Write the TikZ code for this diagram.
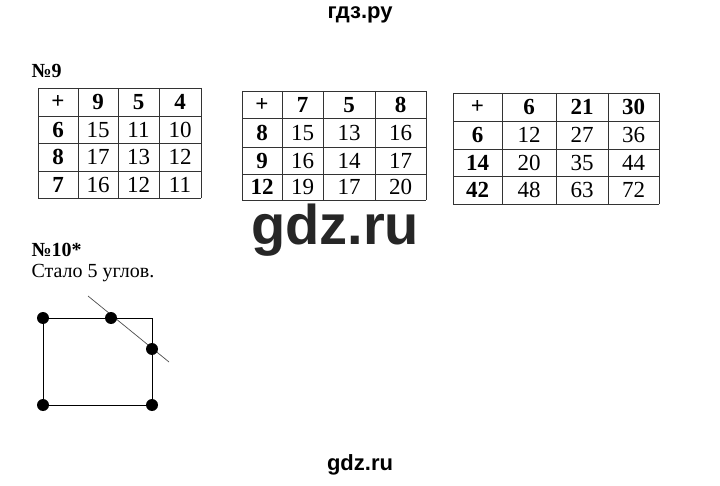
\documentclass[tikz,border=0pt]{standalone}
\usepackage{fontspec}
\setmainfont{Liberation Serif}
\newfontfamily\sans{Liberation Sans}
\begin{document}
\begin{tikzpicture}[x=1pt,y=-1pt,
  cell/.style={font=\fontsize{23}{23}\selectfont},
  hd/.style={font=\bfseries\fontsize{23}{23}\selectfont},
  dot/.style={circle,fill=black,inner sep=0pt,minimum size=12pt},
  grid/.style={line width=0.9pt,draw=black!80}]
\useasboundingbox (0,0) rectangle (720,486);
\node[font=\sans\bfseries\fontsize{22}{22}\selectfont] (t) at (360,15) {гдз.ру};
\node[font=\sans\bfseries\fontsize{22}{22}\selectfont] (b) at (360,465) {gdz.ru};
\node[font=\sans\bfseries\fontsize{56}{56}\selectfont,text=black!85] (w) at (335,230) {gdz.ru};
\node[anchor=west,font=\bfseries\fontsize{20}{20}\selectfont] (n9) at (28,71) {№9};
\node[anchor=west,font=\bfseries\fontsize{20}{20}\selectfont] (n10) at (28,250) {№10*};
\node[anchor=west,font=\fontsize{20}{20}\selectfont] (s) at (28,273) {Стало 5 углов.};
% Table 1
\foreach \x in {38,78,118,159,201} \draw[grid] (\x,88) -- (\x,198);
\foreach \y in {88,116,143,171,198} \draw[grid] (38,\y) -- (201,\y);
\foreach \t/\cx [count=\i] in {+/58,9/98,5/138.5,4/180} \node[hd] (a0\i) at (\cx,102) {\t};
\foreach \a/\b/\c/\d/\y [count=\j] in {6/15/11/10/130,8/17/13/12/157,7/16/12/11/185}{
  \node[hd] (a\j1) at (58,\y) {\a};
  \node[cell] (a\j2) at (98,\y) {\b};
  \node[cell] (a\j3) at (138.5,\y) {\c};
  \node[cell] (a\j4) at (180,\y) {\d};}
% Table 2
\foreach \x in {242,282,323,375,426} \draw[grid] (\x,91) -- (\x,200);
\foreach \y in {91,118,147,174,200} \draw[grid] (242,\y) -- (426,\y);
\foreach \t/\cx [count=\i] in {+/262,7/302.5,5/349,8/400.5} \node[hd] (b0\i) at (\cx,105) {\t};
\foreach \a/\b/\c/\d/\y [count=\j] in {8/15/13/16/133,9/16/14/17/161,12/19/17/20/187}{
  \node[hd] (b\j1) at (262,\y) {\a};
  \node[cell] (b\j2) at (302.5,\y) {\b};
  \node[cell] (b\j3) at (349,\y) {\c};
  \node[cell] (b\j4) at (400.5,\y) {\d};}
% Table 3
\foreach \x in {453,502,556,608,659} \draw[grid] (\x,93) -- (\x,204);
\foreach \y in {93,121,149,176,204} \draw[grid] (453,\y) -- (659,\y);
\foreach \t/\cx [count=\i] in {+/477.5,6/529,21/582,30/633.5} \node[hd] (c0\i) at (\cx,107) {\t};
\foreach \a/\b/\c/\d/\y [count=\j] in {6/12/27/36/135,14/20/35/44/163,42/48/63/72/190}{
  \node[hd] (c\j1) at (477.5,\y) {\a};
  \node[cell] (c\j2) at (529,\y) {\b};
  \node[cell] (c\j3) at (582,\y) {\c};
  \node[cell] (c\j4) at (633.5,\y) {\d};}
% Figure
\coordinate (p1) at (43,318);
\coordinate (p2) at (111,318);
\coordinate (pc) at (152,318);
\coordinate (p3) at (152,349);
\coordinate (p4) at (152,405);
\coordinate (p5) at (43,405);
\coordinate (l1) at (88,296);
\coordinate (l2) at (169,362);
\draw[line width=1pt] (p1) -- (pc) -- (p4) -- (p5) -- cycle;
\draw[line width=0.7pt,black!70] (l1) -- (l2);
\foreach \p in {p1,p2,p3,p4,p5} \node[dot] at (\p) {};
\end{tikzpicture}
\end{document}
